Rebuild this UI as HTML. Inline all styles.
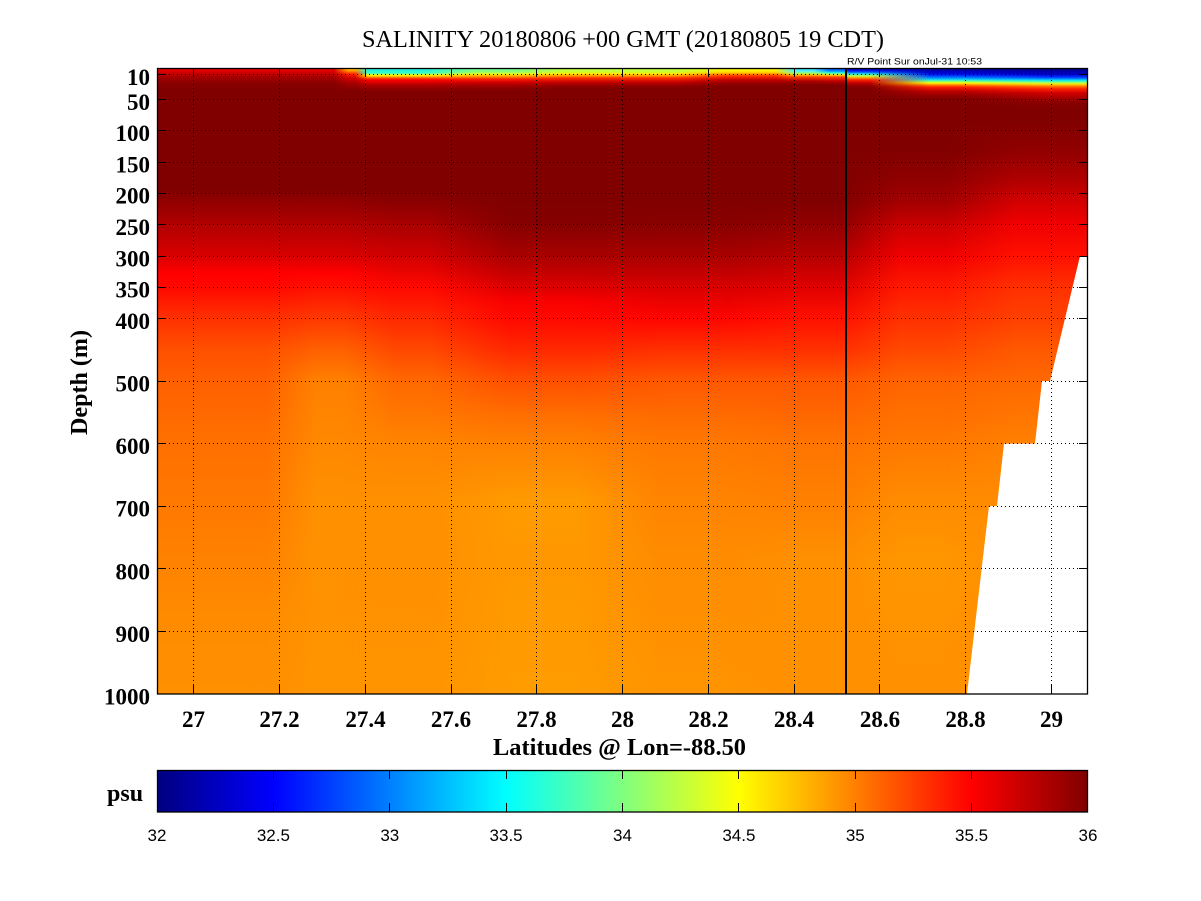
<!DOCTYPE html>
<html><head><meta charset="utf-8"><style>
html,body{margin:0;padding:0;background:#fff;}
svg{display:block;}
.s{font-family:"Liberation Serif",serif;font-weight:bold;fill:#000;}
.a{font-family:"Liberation Sans",sans-serif;fill:#000;}
</style></head><body>
<svg width="1201" height="901" viewBox="0 0 1201 901" xmlns="http://www.w3.org/2000/svg">
<defs>
<clipPath id="pc"><rect x="157" y="68" width="931" height="626"/></clipPath>

<linearGradient id="c1" gradientUnits="userSpaceOnUse" x1="0" y1="68" x2="0" y2="694">
<stop offset="0" stop-color="#800000"/><stop offset=".195" stop-color="#800000"/><stop offset=".211" stop-color="#900000"/><stop offset=".249" stop-color="#b00000"/><stop offset=".300" stop-color="#d80000"/><stop offset=".327" stop-color="#ff0000"/><stop offset=".350" stop-color="#ff0800"/><stop offset=".399" stop-color="#ff3000"/><stop offset=".450" stop-color="#ff5000"/><stop offset=".500" stop-color="#ff6000"/><stop offset=".599" stop-color="#ff7000"/><stop offset=".690" stop-color="#ff7800"/><stop offset=".786" stop-color="#ff8200"/><stop offset=".882" stop-color="#ff8c00"/><stop offset="1" stop-color="#ff9000"/></linearGradient>
<linearGradient id="c2" gradientUnits="userSpaceOnUse" x1="0" y1="68" x2="0" y2="694">
<stop offset="0" stop-color="#800000"/><stop offset=".195" stop-color="#800000"/><stop offset=".211" stop-color="#900000"/><stop offset=".249" stop-color="#b00000"/><stop offset=".300" stop-color="#d80000"/><stop offset=".327" stop-color="#ff0000"/><stop offset=".350" stop-color="#ff1000"/><stop offset=".399" stop-color="#ff3800"/><stop offset=".450" stop-color="#ff6000"/><stop offset=".500" stop-color="#ff8000"/><stop offset=".599" stop-color="#ff8800"/><stop offset=".690" stop-color="#ff9000"/><stop offset="1" stop-color="#ff9400"/></linearGradient>
<linearGradient id="c3" gradientUnits="userSpaceOnUse" x1="0" y1="68" x2="0" y2="694">
<stop offset="0" stop-color="#800000"/><stop offset=".195" stop-color="#800000"/><stop offset=".211" stop-color="#880000"/><stop offset=".249" stop-color="#a80000"/><stop offset=".300" stop-color="#d00000"/><stop offset=".350" stop-color="#ff0800"/><stop offset=".399" stop-color="#ff2800"/><stop offset=".450" stop-color="#ff4800"/><stop offset=".500" stop-color="#ff6800"/><stop offset=".558" stop-color="#ff7800"/><stop offset=".599" stop-color="#ff8400"/><stop offset=".690" stop-color="#ff9000"/><stop offset=".786" stop-color="#ff9000"/><stop offset="1" stop-color="#ff9400"/></linearGradient>
<linearGradient id="c4" gradientUnits="userSpaceOnUse" x1="0" y1="68" x2="0" y2="694">
<stop offset="0" stop-color="#800000"/><stop offset=".211" stop-color="#800000"/><stop offset=".249" stop-color="#850000"/><stop offset=".300" stop-color="#a80000"/><stop offset=".350" stop-color="#dc0000"/><stop offset=".371" stop-color="#f80000"/><stop offset=".399" stop-color="#ff0800"/><stop offset=".450" stop-color="#ff2800"/><stop offset=".500" stop-color="#ff5000"/><stop offset=".558" stop-color="#ff7000"/><stop offset=".599" stop-color="#ff8000"/><stop offset=".690" stop-color="#ff9a00"/><stop offset=".786" stop-color="#ff9800"/><stop offset="1" stop-color="#ff9c00"/></linearGradient>
<linearGradient id="c5" gradientUnits="userSpaceOnUse" x1="0" y1="68" x2="0" y2="694">
<stop offset="0" stop-color="#800000"/><stop offset=".211" stop-color="#800000"/><stop offset=".249" stop-color="#880000"/><stop offset=".300" stop-color="#a80000"/><stop offset=".350" stop-color="#d80000"/><stop offset=".399" stop-color="#ff0400"/><stop offset=".450" stop-color="#ff3000"/><stop offset=".500" stop-color="#ff5800"/><stop offset=".558" stop-color="#ff6c00"/><stop offset=".599" stop-color="#ff7800"/><stop offset=".690" stop-color="#ff8400"/><stop offset=".786" stop-color="#ff8c00"/><stop offset="1" stop-color="#ff9400"/></linearGradient>
<linearGradient id="c6" gradientUnits="userSpaceOnUse" x1="0" y1="68" x2="0" y2="694">
<stop offset="0" stop-color="#800000"/><stop offset=".211" stop-color="#800000"/><stop offset=".249" stop-color="#900000"/><stop offset=".300" stop-color="#b40000"/><stop offset=".350" stop-color="#e00000"/><stop offset=".399" stop-color="#ff1000"/><stop offset=".450" stop-color="#ff3000"/><stop offset=".500" stop-color="#ff5800"/><stop offset=".558" stop-color="#ff6800"/><stop offset=".599" stop-color="#ff7400"/><stop offset=".690" stop-color="#ff8000"/><stop offset=".786" stop-color="#ff9000"/><stop offset="1" stop-color="#ff9000"/></linearGradient>
<linearGradient id="c7" gradientUnits="userSpaceOnUse" x1="0" y1="68" x2="0" y2="694">
<stop offset="0" stop-color="#800000"/><stop offset=".131" stop-color="#800000"/><stop offset=".179" stop-color="#900000"/><stop offset=".211" stop-color="#a00000"/><stop offset=".249" stop-color="#c80000"/><stop offset=".300" stop-color="#f00000"/><stop offset=".350" stop-color="#ff1800"/><stop offset=".399" stop-color="#ff3000"/><stop offset=".450" stop-color="#ff4800"/><stop offset=".500" stop-color="#ff6400"/><stop offset=".599" stop-color="#ff7800"/><stop offset=".690" stop-color="#ff8c00"/><stop offset=".786" stop-color="#ff9600"/><stop offset="1" stop-color="#ff9000"/></linearGradient>
<linearGradient id="c8" gradientUnits="userSpaceOnUse" x1="0" y1="68" x2="0" y2="694">
<stop offset="0" stop-color="#800000"/><stop offset=".083" stop-color="#800000"/><stop offset=".131" stop-color="#900000"/><stop offset=".179" stop-color="#b00000"/><stop offset=".211" stop-color="#d00000"/><stop offset=".249" stop-color="#f00000"/><stop offset=".300" stop-color="#ff1000"/><stop offset=".350" stop-color="#ff3000"/><stop offset=".399" stop-color="#ff4000"/><stop offset=".450" stop-color="#ff5800"/><stop offset=".500" stop-color="#ff6800"/><stop offset=".599" stop-color="#ff8000"/><stop offset=".690" stop-color="#ff8c00"/><stop offset="1" stop-color="#ff9000"/></linearGradient>

<linearGradient id="t1" gradientUnits="userSpaceOnUse" x1="0" y1="68" x2="0" y2="112">
<stop offset="0" stop-color="#f00000"/><stop offset=".068" stop-color="#e00000"/><stop offset=".136" stop-color="#c00000"/><stop offset=".227" stop-color="#a00000"/><stop offset=".364" stop-color="#880000"/><stop offset=".5" stop-color="#800000"/><stop offset="1" stop-color="#800000"/></linearGradient>
<linearGradient id="t2" gradientUnits="userSpaceOnUse" x1="0" y1="68" x2="0" y2="112">
<stop offset="0" stop-color="#ffe000"/><stop offset=".068" stop-color="#ff9000"/><stop offset=".136" stop-color="#ff2000"/><stop offset=".227" stop-color="#d00000"/><stop offset=".364" stop-color="#a00000"/><stop offset=".5" stop-color="#800000"/><stop offset="1" stop-color="#800000"/></linearGradient>
<linearGradient id="t3" gradientUnits="userSpaceOnUse" x1="0" y1="68" x2="0" y2="112">
<stop offset="0" stop-color="#20e8e0"/><stop offset=".114" stop-color="#30ffd0"/><stop offset=".136" stop-color="#80ff80"/><stop offset=".159" stop-color="#ffff00"/><stop offset=".205" stop-color="#ffa000"/><stop offset=".227" stop-color="#ff5000"/><stop offset=".273" stop-color="#ff0000"/><stop offset=".318" stop-color="#e00000"/><stop offset=".386" stop-color="#b00000"/><stop offset=".477" stop-color="#900000"/><stop offset=".545" stop-color="#800000"/><stop offset="1" stop-color="#800000"/></linearGradient>
<linearGradient id="t4" gradientUnits="userSpaceOnUse" x1="0" y1="68" x2="0" y2="112">
<stop offset="0" stop-color="#60ffa0"/><stop offset=".091" stop-color="#90ff70"/><stop offset=".136" stop-color="#e0ff20"/><stop offset=".159" stop-color="#ffd000"/><stop offset=".205" stop-color="#ff8000"/><stop offset=".25" stop-color="#ff2000"/><stop offset=".318" stop-color="#d80000"/><stop offset=".386" stop-color="#a80000"/><stop offset=".477" stop-color="#880000"/><stop offset=".523" stop-color="#800000"/><stop offset="1" stop-color="#800000"/></linearGradient>
<linearGradient id="t5" gradientUnits="userSpaceOnUse" x1="0" y1="68" x2="0" y2="112">
<stop offset="0" stop-color="#b0ff50"/><stop offset=".091" stop-color="#d0ff30"/><stop offset=".136" stop-color="#ffe000"/><stop offset=".182" stop-color="#ff9000"/><stop offset=".227" stop-color="#ff3000"/><stop offset=".318" stop-color="#c80000"/><stop offset=".409" stop-color="#900000"/><stop offset=".477" stop-color="#800000"/><stop offset="1" stop-color="#800000"/></linearGradient>
<linearGradient id="t6" gradientUnits="userSpaceOnUse" x1="0" y1="68" x2="0" y2="112">
<stop offset="0" stop-color="#f0ff10"/><stop offset=".091" stop-color="#ffe000"/><stop offset=".136" stop-color="#ff9000"/><stop offset=".182" stop-color="#ff3000"/><stop offset=".273" stop-color="#c00000"/><stop offset=".364" stop-color="#900000"/><stop offset=".432" stop-color="#800000"/><stop offset="1" stop-color="#800000"/></linearGradient>
<linearGradient id="t7" gradientUnits="userSpaceOnUse" x1="0" y1="68" x2="0" y2="112">
<stop offset="0" stop-color="#30d0ff"/><stop offset=".068" stop-color="#50f0ff"/><stop offset=".114" stop-color="#90ff70"/><stop offset=".159" stop-color="#ffc000"/><stop offset=".205" stop-color="#ff4000"/><stop offset=".295" stop-color="#b00000"/><stop offset=".386" stop-color="#800000"/><stop offset="1" stop-color="#800000"/></linearGradient>
<linearGradient id="t8" gradientUnits="userSpaceOnUse" x1="0" y1="68" x2="0" y2="112">
<stop offset="0" stop-color="#0030ff"/><stop offset=".068" stop-color="#0090ff"/><stop offset=".114" stop-color="#30ffd0"/><stop offset=".159" stop-color="#ffe000"/><stop offset=".205" stop-color="#ff4000"/><stop offset=".295" stop-color="#c00000"/><stop offset=".386" stop-color="#800000"/><stop offset="1" stop-color="#800000"/></linearGradient>
<linearGradient id="t9" gradientUnits="userSpaceOnUse" x1="0" y1="68" x2="0" y2="112">
<stop offset="0" stop-color="#000090"/><stop offset=".045" stop-color="#0000e0"/><stop offset=".091" stop-color="#0050ff"/><stop offset=".136" stop-color="#20e0e0"/><stop offset=".182" stop-color="#c0ff40"/><stop offset=".227" stop-color="#ff9000"/><stop offset=".273" stop-color="#ff2000"/><stop offset=".341" stop-color="#c00000"/><stop offset=".409" stop-color="#900000"/><stop offset=".455" stop-color="#800000"/><stop offset="1" stop-color="#800000"/></linearGradient>
<linearGradient id="t10" gradientUnits="userSpaceOnUse" x1="0" y1="68" x2="0" y2="112">
<stop offset="0" stop-color="#00008f"/><stop offset=".114" stop-color="#0000d0"/><stop offset=".182" stop-color="#0040ff"/><stop offset=".25" stop-color="#00c0ff"/><stop offset=".295" stop-color="#60ffa0"/><stop offset=".341" stop-color="#ffff00"/><stop offset=".386" stop-color="#ff8000"/><stop offset=".432" stop-color="#ff2000"/><stop offset=".523" stop-color="#c00000"/><stop offset=".636" stop-color="#900000"/><stop offset=".705" stop-color="#800000"/><stop offset="1" stop-color="#800000"/></linearGradient>
<linearGradient id="t11" gradientUnits="userSpaceOnUse" x1="0" y1="68" x2="0" y2="112">
<stop offset="0" stop-color="#000080"/><stop offset=".136" stop-color="#0000c0"/><stop offset=".205" stop-color="#0030ff"/><stop offset=".25" stop-color="#0090ff"/><stop offset=".273" stop-color="#00e0ff"/><stop offset=".318" stop-color="#60ffa0"/><stop offset=".341" stop-color="#d0ff30"/><stop offset=".386" stop-color="#ffc000"/><stop offset=".409" stop-color="#ff8000"/><stop offset=".477" stop-color="#ff2000"/><stop offset=".568" stop-color="#d00000"/><stop offset=".705" stop-color="#a00000"/><stop offset=".795" stop-color="#880000"/><stop offset=".886" stop-color="#800000"/><stop offset="1" stop-color="#800000"/></linearGradient>

<linearGradient id="r_d2" gradientUnits="userSpaceOnUse" x1="265" y1="0" x2="315" y2="0"><stop offset="0" stop-color="#000"/><stop offset="1" stop-color="#fff"/></linearGradient>
<linearGradient id="r_d3" gradientUnits="userSpaceOnUse" x1="345" y1="0" x2="395" y2="0"><stop offset="0" stop-color="#000"/><stop offset="1" stop-color="#fff"/></linearGradient>
<linearGradient id="r_d4" gradientUnits="userSpaceOnUse" x1="430" y1="0" x2="510" y2="0"><stop offset="0" stop-color="#000"/><stop offset="1" stop-color="#fff"/></linearGradient>
<linearGradient id="r_d5" gradientUnits="userSpaceOnUse" x1="580" y1="0" x2="660" y2="0"><stop offset="0" stop-color="#000"/><stop offset="1" stop-color="#fff"/></linearGradient>
<linearGradient id="r_d6" gradientUnits="userSpaceOnUse" x1="725" y1="0" x2="795" y2="0"><stop offset="0" stop-color="#000"/><stop offset="1" stop-color="#fff"/></linearGradient>
<linearGradient id="r_d7" gradientUnits="userSpaceOnUse" x1="840" y1="0" x2="900" y2="0"><stop offset="0" stop-color="#000"/><stop offset="1" stop-color="#fff"/></linearGradient>
<linearGradient id="r_d8" gradientUnits="userSpaceOnUse" x1="945" y1="0" x2="1015" y2="0"><stop offset="0" stop-color="#000"/><stop offset="1" stop-color="#fff"/></linearGradient>

<linearGradient id="r_t2" gradientUnits="userSpaceOnUse" x1="334" y1="0" x2="348" y2="0"><stop offset="0" stop-color="#000"/><stop offset="1" stop-color="#fff"/></linearGradient>
<linearGradient id="r_t3" gradientUnits="userSpaceOnUse" x1="355" y1="0" x2="368" y2="0"><stop offset="0" stop-color="#000"/><stop offset="1" stop-color="#fff"/></linearGradient>
<linearGradient id="r_t4" gradientUnits="userSpaceOnUse" x1="425" y1="0" x2="475" y2="0"><stop offset="0" stop-color="#000"/><stop offset="1" stop-color="#fff"/></linearGradient>
<linearGradient id="r_t5" gradientUnits="userSpaceOnUse" x1="515" y1="0" x2="565" y2="0"><stop offset="0" stop-color="#000"/><stop offset="1" stop-color="#fff"/></linearGradient>
<linearGradient id="r_t6" gradientUnits="userSpaceOnUse" x1="675" y1="0" x2="725" y2="0"><stop offset="0" stop-color="#000"/><stop offset="1" stop-color="#fff"/></linearGradient>
<linearGradient id="r_t7" gradientUnits="userSpaceOnUse" x1="776" y1="0" x2="795" y2="0"><stop offset="0" stop-color="#000"/><stop offset="1" stop-color="#fff"/></linearGradient>
<linearGradient id="r_t8" gradientUnits="userSpaceOnUse" x1="814" y1="0" x2="830" y2="0"><stop offset="0" stop-color="#000"/><stop offset="1" stop-color="#fff"/></linearGradient>
<linearGradient id="r_t9" gradientUnits="userSpaceOnUse" x1="844" y1="0" x2="849" y2="0"><stop offset="0" stop-color="#000"/><stop offset="1" stop-color="#fff"/></linearGradient>
<linearGradient id="r_t10" gradientUnits="userSpaceOnUse" x1="870" y1="0" x2="930" y2="0"><stop offset="0" stop-color="#000"/><stop offset="1" stop-color="#fff"/></linearGradient>
<linearGradient id="r_t11" gradientUnits="userSpaceOnUse" x1="960" y1="0" x2="1050" y2="0"><stop offset="0" stop-color="#000"/><stop offset="1" stop-color="#fff"/></linearGradient>

<mask id="m_d2" maskUnits="userSpaceOnUse" x="0" y="0" width="1201" height="901"><rect x="0" y="0" width="1201" height="901" fill="url(#r_d2)"/></mask>
<mask id="m_d3" maskUnits="userSpaceOnUse" x="0" y="0" width="1201" height="901"><rect x="0" y="0" width="1201" height="901" fill="url(#r_d3)"/></mask>
<mask id="m_d4" maskUnits="userSpaceOnUse" x="0" y="0" width="1201" height="901"><rect x="0" y="0" width="1201" height="901" fill="url(#r_d4)"/></mask>
<mask id="m_d5" maskUnits="userSpaceOnUse" x="0" y="0" width="1201" height="901"><rect x="0" y="0" width="1201" height="901" fill="url(#r_d5)"/></mask>
<mask id="m_d6" maskUnits="userSpaceOnUse" x="0" y="0" width="1201" height="901"><rect x="0" y="0" width="1201" height="901" fill="url(#r_d6)"/></mask>
<mask id="m_d7" maskUnits="userSpaceOnUse" x="0" y="0" width="1201" height="901"><rect x="0" y="0" width="1201" height="901" fill="url(#r_d7)"/></mask>
<mask id="m_d8" maskUnits="userSpaceOnUse" x="0" y="0" width="1201" height="901"><rect x="0" y="0" width="1201" height="901" fill="url(#r_d8)"/></mask>

<mask id="m_t2" maskUnits="userSpaceOnUse" x="0" y="0" width="1201" height="901"><rect x="0" y="0" width="1201" height="901" fill="url(#r_t2)"/></mask>
<mask id="m_t3" maskUnits="userSpaceOnUse" x="0" y="0" width="1201" height="901"><rect x="0" y="0" width="1201" height="901" fill="url(#r_t3)"/></mask>
<mask id="m_t4" maskUnits="userSpaceOnUse" x="0" y="0" width="1201" height="901"><rect x="0" y="0" width="1201" height="901" fill="url(#r_t4)"/></mask>
<mask id="m_t5" maskUnits="userSpaceOnUse" x="0" y="0" width="1201" height="901"><rect x="0" y="0" width="1201" height="901" fill="url(#r_t5)"/></mask>
<mask id="m_t6" maskUnits="userSpaceOnUse" x="0" y="0" width="1201" height="901"><rect x="0" y="0" width="1201" height="901" fill="url(#r_t6)"/></mask>
<mask id="m_t7" maskUnits="userSpaceOnUse" x="0" y="0" width="1201" height="901"><rect x="0" y="0" width="1201" height="901" fill="url(#r_t7)"/></mask>
<mask id="m_t8" maskUnits="userSpaceOnUse" x="0" y="0" width="1201" height="901"><rect x="0" y="0" width="1201" height="901" fill="url(#r_t8)"/></mask>
<mask id="m_t9" maskUnits="userSpaceOnUse" x="0" y="0" width="1201" height="901"><rect x="0" y="0" width="1201" height="901" fill="url(#r_t9)"/></mask>
<mask id="m_t10" maskUnits="userSpaceOnUse" x="0" y="0" width="1201" height="901"><rect x="0" y="0" width="1201" height="901" fill="url(#r_t10)"/></mask>
<mask id="m_t11" maskUnits="userSpaceOnUse" x="0" y="0" width="1201" height="901"><rect x="0" y="0" width="1201" height="901" fill="url(#r_t11)"/></mask>

<linearGradient id="jet" x1="0" y1="0" x2="1" y2="0">
<stop offset="0" stop-color="#000080"/><stop offset=".125" stop-color="#0000ff"/><stop offset=".375" stop-color="#00ffff"/><stop offset=".625" stop-color="#ffff00"/><stop offset=".875" stop-color="#ff0000"/><stop offset="1" stop-color="#800000"/></linearGradient>
</defs>

<text x="623" y="47" text-anchor="middle" textLength="522" lengthAdjust="spacingAndGlyphs" style="font-family:'Liberation Serif',serif;font-size:24px;fill:#000">SALINITY 20180806 +00 GMT (20180805 19 CDT)</text>
<text class="a" x="847" y="64.5" textLength="135" lengthAdjust="spacingAndGlyphs" style="font-size:9.5px">R/V Point Sur onJul-31 10:53</text>

<g clip-path="url(#pc)">
 <rect x="157" y="68" width="931" height="626" fill="url(#c1)"/>
 <rect x="157" y="68" width="931" height="626" fill="url(#c2)" mask="url(#m_d2)"/>
 <rect x="157" y="68" width="931" height="626" fill="url(#c3)" mask="url(#m_d3)"/>
 <rect x="157" y="68" width="931" height="626" fill="url(#c4)" mask="url(#m_d4)"/>
 <rect x="157" y="68" width="931" height="626" fill="url(#c5)" mask="url(#m_d5)"/>
 <rect x="157" y="68" width="931" height="626" fill="url(#c6)" mask="url(#m_d6)"/>
 <rect x="157" y="68" width="931" height="626" fill="url(#c7)" mask="url(#m_d7)"/>
 <rect x="157" y="68" width="931" height="626" fill="url(#c8)" mask="url(#m_d8)"/>

 <rect x="157" y="68" width="931" height="44" fill="url(#t1)"/>
 <rect x="157" y="68" width="931" height="44" fill="url(#t2)" mask="url(#m_t2)"/>
 <rect x="157" y="68" width="931" height="44" fill="url(#t3)" mask="url(#m_t3)"/>
 <rect x="157" y="68" width="931" height="44" fill="url(#t4)" mask="url(#m_t4)"/>
 <rect x="157" y="68" width="931" height="44" fill="url(#t5)" mask="url(#m_t5)"/>
 <rect x="157" y="68" width="931" height="44" fill="url(#t6)" mask="url(#m_t6)"/>
 <rect x="157" y="68" width="931" height="44" fill="url(#t7)" mask="url(#m_t7)"/>
 <rect x="157" y="68" width="931" height="44" fill="url(#t8)" mask="url(#m_t8)"/>
 <rect x="157" y="68" width="931" height="44" fill="url(#t9)" mask="url(#m_t9)"/>
 <rect x="157" y="68" width="931" height="44" fill="url(#t10)" mask="url(#m_t10)"/>
 <rect x="157" y="68" width="931" height="44" fill="url(#t11)" mask="url(#m_t11)"/>

 <polygon points="1080,256 1050,381 1042,381 1035,443.6 1004,443.6 997,506 989,506 967,694 1090,694 1090,256" fill="#fff"/>
</g>

<g stroke="#000" stroke-width="1" stroke-dasharray="1 3" shape-rendering="crispEdges" fill="none">
 <path d="M157 74.5H1088M157 99.5H1088M157 130.5H1088M157 162.5H1088M157 193.5H1088M157 224.5H1088M157 256.5H1088M157 287.5H1088M157 318.5H1088M157 381.5H1088M157 443.5H1088M157 506.5H1088M157 568.5H1088M157 631.5H1088"/>
 <path d="M193.5 68V694M279.5 68V694M365.5 68V694M451.5 68V694M536.5 68V694M622.5 68V694M708.5 68V694M794.5 68V694M879.5 68V694M965.5 68V694M1051.5 68V694"/>
</g>
<g stroke="#000" stroke-width="1" shape-rendering="crispEdges">
 <path d="M157 74.5h9M157 99.5h9M157 130.5h9M157 162.5h9M157 193.5h9M157 224.5h9M157 256.5h9M157 287.5h9M157 318.5h9M157 381.5h9M157 443.5h9M157 506.5h9M157 568.5h9M157 631.5h9"/>
 <path d="M1088 74.5h-9M1088 99.5h-9M1088 130.5h-9M1088 162.5h-9M1088 193.5h-9M1088 224.5h-9M1088 256.5h-9M1088 287.5h-9M1088 318.5h-9M1088 381.5h-9M1088 443.5h-9M1088 506.5h-9M1088 568.5h-9M1088 631.5h-9"/>
 <path d="M193.5 694v-9M279.5 694v-9M365.5 694v-9M451.5 694v-9M536.5 694v-9M622.5 694v-9M708.5 694v-9M794.5 694v-9M879.5 694v-9M965.5 694v-9M1051.5 694v-9"/>
 <path d="M193.5 68v9M279.5 68v9M365.5 68v9M451.5 68v9M536.5 68v9M622.5 68v9M708.5 68v9M794.5 68v9M879.5 68v9M965.5 68v9M1051.5 68v9"/>
</g>
<rect x="845" y="68" width="2" height="626" fill="#000"/>
<rect x="157.5" y="68.5" width="930" height="625.5" fill="none" stroke="#000" stroke-width="1.3"/>

<g class="s" style="font-size:23px" text-anchor="end">
 <text x="150" y="84.8">10</text>
 <text x="150" y="109.8">50</text>
 <text x="150" y="141.1">100</text>
 <text x="150" y="172.4">150</text>
 <text x="150" y="203.7">200</text>
 <text x="150" y="235">250</text>
 <text x="150" y="266.3">300</text>
 <text x="150" y="297.6">350</text>
 <text x="150" y="328.9">400</text>
 <text x="150" y="391.5">500</text>
 <text x="150" y="454.1">600</text>
 <text x="150" y="516.7">700</text>
 <text x="150" y="579.3">800</text>
 <text x="150" y="641.9">900</text>
 <text x="150" y="704.5">1000</text>
</g>
<g class="s" style="font-size:23px" text-anchor="middle">
 <text x="193.5" y="727">27</text>
 <text x="279.5" y="727">27.2</text>
 <text x="365.5" y="727">27.4</text>
 <text x="451" y="727">27.6</text>
 <text x="536.5" y="727">27.8</text>
 <text x="622.5" y="727">28</text>
 <text x="708.5" y="727">28.2</text>
 <text x="794" y="727">28.4</text>
 <text x="880" y="727">28.6</text>
 <text x="965.5" y="727">28.8</text>
 <text x="1051.5" y="727">29</text>
</g>
<text class="s" x="619.5" y="755" text-anchor="middle" textLength="253" lengthAdjust="spacingAndGlyphs" style="font-size:24px">Latitudes @ Lon=-88.50</text>
<text class="s" transform="translate(87,382.5) rotate(-90)" x="0" y="0" text-anchor="middle" textLength="105" lengthAdjust="spacingAndGlyphs" style="font-size:24px">Depth (m)</text>

<rect x="157.5" y="770.5" width="930" height="41.5" fill="url(#jet)" stroke="#000" stroke-width="1.3"/>
<g stroke="#000" stroke-width="1" shape-rendering="crispEdges">
 <path d="M273.5 770v9M389.5 770v9M506.5 770v9M622.5 770v9M738.5 770v9M855.5 770v9M971.5 770v9"/>
 <path d="M273.5 812v-9M389.5 812v-9M506.5 812v-9M622.5 812v-9M738.5 812v-9M855.5 812v-9M971.5 812v-9"/>
</g>
<text class="s" x="107" y="801" style="font-size:24px">psu</text>
<g class="a" style="font-size:17px" text-anchor="middle">
 <text x="157" y="841">32</text>
 <text x="273.4" y="841">32.5</text>
 <text x="389.8" y="841">33</text>
 <text x="506.1" y="841">33.5</text>
 <text x="622.5" y="841">34</text>
 <text x="738.9" y="841">34.5</text>
 <text x="855.3" y="841">35</text>
 <text x="971.6" y="841">35.5</text>
 <text x="1088" y="841">36</text>
</g>
</svg>
</body></html>
